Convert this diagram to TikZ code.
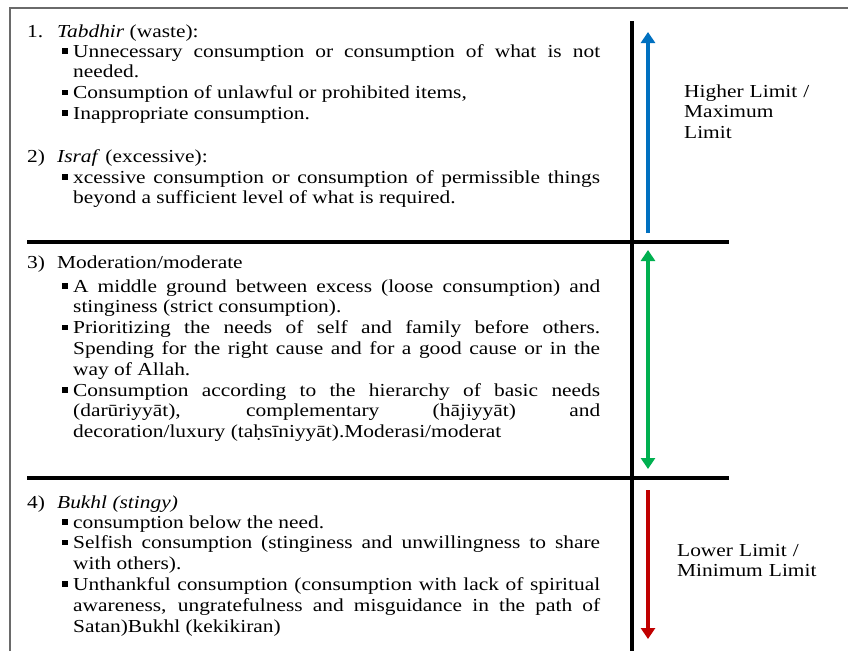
\documentclass[tikz,border=0pt]{standalone}
\usepackage{fontspec}
\setmainfont{Liberation Serif}[FakeStretch=1.17]
\usetikzlibrary{arrows.meta}
\definecolor{wblue}{HTML}{0070C0}
\definecolor{wgreen}{HTML}{00B050}
\definecolor{wred}{HTML}{C00000}
\definecolor{framegray}{HTML}{6A6A6A}
\newcommand{\bsq}{\noindent\llap{\raisebox{3.5pt}{\rule{5.5pt}{5.5pt}}\hspace{5.5pt}}}
\begin{document}
\begin{tikzpicture}[x=1pt,y=-1pt,
  txt/.style={anchor=base west, inner sep=0pt, font=\fontsize{18.3}{20.8}\selectfont},
  blk/.style={txt, text width=527pt, align=justify},
  lbl/.style={txt, text width=160pt, align=left},
  frame/.style={draw=framegray, line width=2pt},
  rule/.style={draw=black, line width=4pt},
  limarrow/.style={line width=3.5pt, -{Triangle[width=14pt,length=11pt]}},
  limboth/.style={line width=3.5pt, {Triangle[width=14pt,length=11pt]}-{Triangle[width=14pt,length=11pt]}}]
\useasboundingbox (0,0) rectangle (848,651);
\fill[white] (0,0) rectangle (848,651);
% frame
\coordinate (ftl) at (10,8);
\coordinate (ftr) at (848,8);
\coordinate (fbl) at (10,651);
\draw[frame] (fbl) -- (ftl) -- (ftr);
% dividing rules
\coordinate (vtop) at (632,21);
\coordinate (vbot) at (632,651);
\draw[draw=black, line width=4.5pt] (vtop) -- (vbot);
\coordinate (r1a) at (27,242);
\coordinate (r1b) at (729,242);
\coordinate (r2a) at (27,478);
\coordinate (r2b) at (729,478);
\draw[rule] (r1a) -- (r1b);
\draw[rule] (r2a) -- (r2b);
% arrows
\coordinate (bt) at (648,233);
\coordinate (bh) at (648,32);
\draw[limarrow, draw=wblue, fill=wblue] (bt) -- (bh);
\coordinate (gt) at (648,250);
\coordinate (gb) at (648,469);
\draw[limboth, draw=wgreen, fill=wgreen] (gt) -- (gb);
\coordinate (rt) at (648,490);
\coordinate (rh) at (648,639);
\draw[limarrow, draw=wred, fill=wred] (rt) -- (rh);
% section 1
\node[txt] (h1) at (27,37) {\makebox[30pt][l]{1.}\textit{Tabdhir} (waste):};
\node[blk] (b1) at (73,57) {\emergencystretch=10pt
\bsq Unnecessary consumption or consumption of what is not\linebreak needed.\par
\bsq Consumption of unlawful or prohibited items,\par
\bsq Inappropriate consumption.};
\node[txt] (h2) at (27,162) {\makebox[30pt][l]{2)}\textit{Israf} (excessive):};
\node[blk] (b2) at (73,183) {\emergencystretch=10pt
\bsq xcessive consumption or consumption of permissible things\linebreak beyond a sufficient level of what is required.};
% section 3
\node[txt] (h3) at (27,268) {\makebox[30pt][l]{3)}Moderation/moderate};
\node[blk] (b3) at (73,292) {\emergencystretch=10pt
\bsq A middle ground between excess (loose consumption) and\linebreak stinginess (strict consumption).\par
\bsq Prioritizing the needs of self and family before others.\linebreak Spending for the right cause and for a good cause or in the\linebreak way of Allah.\par
\bsq Consumption according to the hierarchy of basic needs\linebreak (darūriyyāt), complementary (hājiyyāt) and\linebreak decoration/luxury (taḥsīniyyāt).Moderasi/moderat};
% section 4
\node[txt] (h4) at (27,508) {\makebox[30pt][l]{4)}\textit{Bukhl (stingy)}};
\node[blk] (b4) at (73,528) {\emergencystretch=10pt
\bsq consumption below the need.\par
\bsq Selfish consumption (stinginess and unwillingness to share\linebreak with others).\par
\bsq Unthankful consumption (consumption with lack of spiritual\linebreak awareness, ungratefulness and misguidance in the path of\linebreak Satan)Bukhl (kekikiran)};
% limit labels
\node[lbl] (hl) at (684,97) {Higher Limit /\\Maximum\\Limit};
\node[lbl] (ll) at (677,556) {Lower Limit /\\Minimum Limit};
\end{tikzpicture}
\end{document}
